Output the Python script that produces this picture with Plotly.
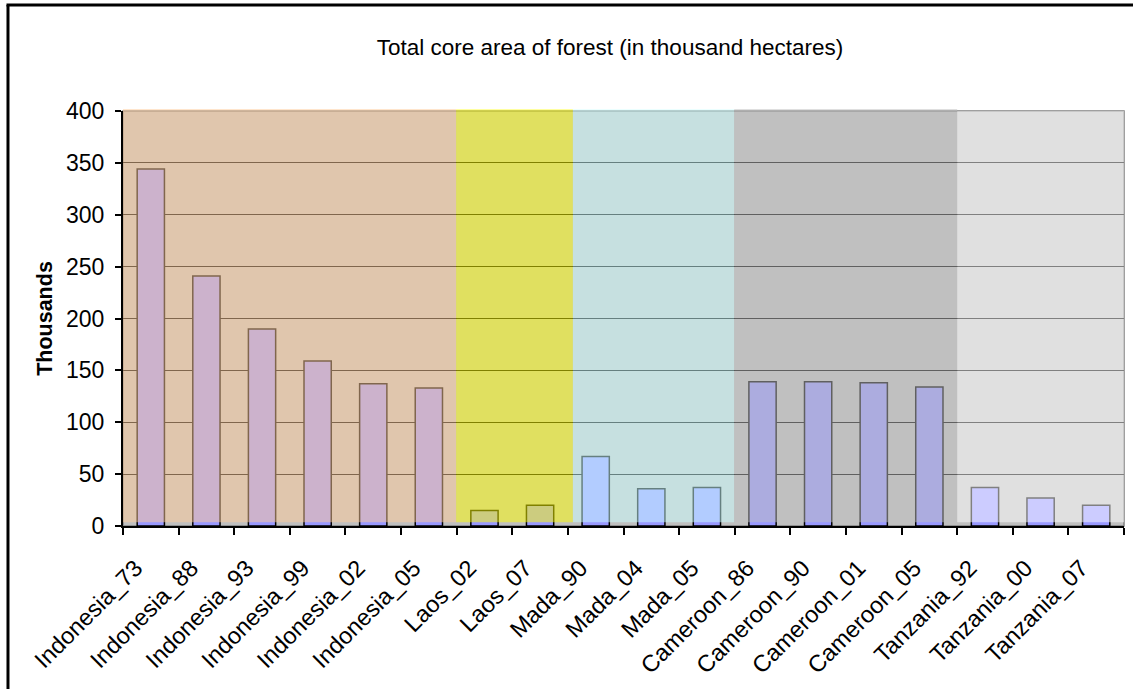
import plotly.graph_objects as go

# Forest core area per site/year (thousand hectares)
categories = [
    "Indonesia_73", "Indonesia_88", "Indonesia_93", "Indonesia_99", "Indonesia_02", "Indonesia_05",
    "Laos_02", "Laos_07",
    "Mada_90", "Mada_04", "Mada_05",
    "Cameroon_86", "Cameroon_90", "Cameroon_01", "Cameroon_05",
    "Tanzania_92", "Tanzania_00", "Tanzania_07",
]
core_area = [
    344, 241, 190, 159, 137, 133,
    15, 20,
    67, 36, 37,
    139, 139, 138, 134,
    37, 27, 20,
]

# Country bands drawn over the bars (x extents in category units, overlay colour)
band_names = ["Indonesia", "Laos", "Mada", "Cameroon", "Tanzania"]
band_x0 = [-0.54, 5.49, 7.59, 10.49, 14.50]
band_x1 = [5.49, 7.59, 10.49, 14.50, 17.54]
band_top = [1.0048, 1.0040, 1.0040, 1.0048, 1.0]
band_colors = ["rgba(255,204,153,0.5)", "rgba(255,255,0,0.5)", "rgba(204,255,255,0.5)",
               "rgba(192,192,192,0.5)", "rgba(255,255,255,0.5)"]

FONT = "Liberation Sans, Arial, sans-serif"

fig = go.Figure()
fig.add_trace(go.Bar(
    x=categories,
    y=core_area,
    width=0.49,
    marker=dict(color="#9999FF", line=dict(color="black", width=1.5)),
    showlegend=False,
))

shapes = []
# plot-area frame
shapes.append(dict(type="rect", xref="paper", yref="paper", x0=0, x1=1, y0=0, y1=1,
                   line=dict(color="#808080", width=1.5), fillcolor="rgba(0,0,0,0)", layer="between"))
# translucent country bands
for x0, x1, top, col in zip(band_x0, band_x1, band_top, band_colors):
    shapes.append(dict(type="rect", xref="x", yref="paper", x0=x0, x1=x1,
                       y0=3.5 / 400, y1=top, fillcolor=col, line=dict(width=0), layer="above"))
# outer chart frame (left and top edges)
shapes.append(dict(type="line", xref="paper", yref="paper", x0=-0.1149, x1=-0.1149,
                   y0=1.2554, y1=-0.45, line=dict(color="black", width=3)))
shapes.append(dict(type="line", xref="paper", yref="paper", x0=-0.1164, x1=1.03,
                   y0=1.2554, y1=1.2554, line=dict(color="black", width=3)))

fig.update_layout(
    width=1133, height=689,
    margin=dict(l=123, r=9, t=111, b=163),
    paper_bgcolor="white",
    plot_bgcolor="#C0C0C0",
    font=dict(family=FONT, color="black", size=22),
    title=dict(text="Total core area of forest (in thousand hectares)",
               x=0.4865, xref="paper", xanchor="center",
               y=1 - 47 / 689, yref="container", yanchor="middle",
               font=dict(family=FONT, size=22.5, color="black")),
    shapes=shapes,
    bargap=0.5,
)
fig.update_xaxes(
    type="category", range=[-0.5, 17.5],
    showgrid=False, showline=True, linecolor="black", linewidth=2,
    ticks="outside", tickson="boundaries", ticklen=7, tickcolor="black", tickwidth=2,
    tickangle=-45, tickfont=dict(size=23.5), ticklabelstandoff=17, ticklabelshift=-15,
)
fig.update_yaxes(
    range=[0, 400], dtick=50, tick0=0,
    showgrid=True, gridcolor="black", gridwidth=1,
    showline=True, linecolor="black", linewidth=2,
    ticks="outside", ticklen=6, tickcolor="black", tickwidth=2,
    tickfont=dict(size=23), ticklabelstandoff=6,
    zeroline=False,
    title=dict(text="<b>Thousands</b>", font=dict(size=21.5), standoff=8),
)

fig.write_html("out.html")
